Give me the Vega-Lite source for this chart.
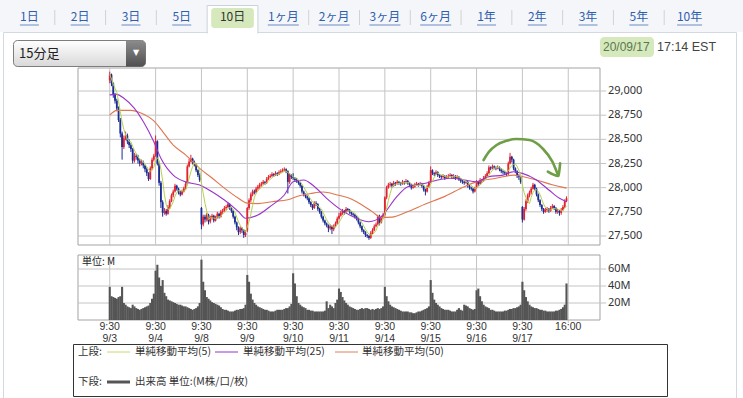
{
"$schema": "https://vega.github.io/schema/vega-lite/v6.json",
"width": 743, "height": 398, "padding": 0, "autosize": {"type": "none"},
"background": "white",
"config": {"view": {"stroke": null}, "font": "Noto Sans CJK JP"},
"data": {"values": [{}]},
"datasets": {
"tabs": [{"t":"1日"},{"t":"2日"},{"t":"3日"},{"t":"5日"},{"t":"10日"},{"t":"1ヶ月"},{"t":"2ヶ月"},{"t":"3ヶ月"},{"t":"6ヶ月"},{"t":"1年"},{"t":"2年"},{"t":"3年"},{"t":"5年"},{"t":"10年"}],
"vg": [{"i":0,"a":"9:30\n9/3"},{"i":26,"a":"9:30\n9/4"},{"i":52,"a":"9:30\n9/8"},{"i":78,"a":"9:30\n9/9"},{"i":104,"a":"9:30\n9/10"},{"i":130,"a":"9:30\n9/11"},{"i":156,"a":"9:30\n9/14"},{"i":182,"a":"9:30\n9/15"},{"i":208,"a":"9:30\n9/16"},{"i":234,"a":"9:30\n9/17"},{"i":260,"a":"16:00"}],
"pg": [{"p":27500},{"p":27750},{"p":28000},{"p":28250},{"p":28500},{"p":28750},{"p":29000}],
"qg": [{"v":20,"t":"20M"},{"v":40,"t":"40M"},{"v":60,"t":"60M"}],
"arrow": [
{"g":"arc","n":0,"i":212,"p":28286},{"g":"arc","n":1,"i":215,"p":28370},{"g":"arc","n":2,"i":219.4,"p":28441},{"g":"arc","n":3,"i":225,"p":28485},{"g":"arc","n":4,"i":230.5,"p":28503},{"g":"arc","n":5,"i":238,"p":28493},{"g":"arc","n":6,"i":245.4,"p":28407},{"g":"arc","n":7,"i":251,"p":28269},{"g":"arc","n":8,"i":254.3,"p":28125},
{"g":"head","n":0,"i":248.4,"p":28165},{"g":"head","n":1,"i":254.3,"p":28121},{"g":"head","n":2,"i":255.4,"p":28252}
],
"ma": [
{"s":"50","i":0,"p":28750},{"s":"50","i":4,"p":28800},{"s":"50","i":12,"p":28800},{"s":"50","i":18,"p":28770},{"s":"50","i":25,"p":28690},{"s":"50","i":30,"p":28580},{"s":"50","i":36,"p":28440},{"s":"50","i":43,"p":28340},{"s":"50","i":51,"p":28200},{"s":"50","i":58,"p":28100},{"s":"50","i":65,"p":27995},{"s":"50","i":73,"p":27890},{"s":"50","i":78,"p":27840},{"s":"50","i":84,"p":27835},{"s":"50","i":92,"p":27855},{"s":"50","i":101,"p":27875},{"s":"50","i":108,"p":27920},{"s":"50","i":114,"p":27940},{"s":"50","i":121,"p":27955},{"s":"50","i":129,"p":27925},{"s":"50","i":136,"p":27890},{"s":"50","i":140,"p":27855},{"s":"50","i":149,"p":27750},{"s":"50","i":154,"p":27690},{"s":"50","i":160,"p":27695},{"s":"50","i":168,"p":27745},{"s":"50","i":179,"p":27830},{"s":"50","i":190,"p":27910},{"s":"50","i":201,"p":28010},{"s":"50","i":208,"p":28060},{"s":"50","i":219,"p":28097},{"s":"50","i":229,"p":28130},{"s":"50","i":234,"p":28115},{"s":"50","i":242,"p":28080},{"s":"50","i":251,"p":28030},{"s":"50","i":259,"p":27995},
{"s":"25","i":0,"p":28960},{"s":"25","i":4,"p":28965},{"s":"25","i":8,"p":28925},{"s":"25","i":14,"p":28820},{"s":"25","i":19,"p":28685},{"s":"25","i":25,"p":28475},{"s":"25","i":29,"p":28305},{"s":"25","i":36,"p":28130},{"s":"25","i":43,"p":28060},{"s":"25","i":51,"p":28028},{"s":"25","i":58,"p":27958},{"s":"25","i":65,"p":27872},{"s":"25","i":73,"p":27752},{"s":"25","i":77,"p":27683},{"s":"25","i":84,"p":27717},{"s":"25","i":92,"p":27820},{"s":"25","i":99,"p":27924},{"s":"25","i":104,"p":28062},{"s":"25","i":110,"p":28080},{"s":"25","i":115,"p":28028},{"s":"25","i":123,"p":27890},{"s":"25","i":130,"p":27786},{"s":"25","i":140,"p":27683},{"s":"25","i":147,"p":27648},{"s":"25","i":154,"p":27700},{"s":"25","i":162,"p":27890},{"s":"25","i":169,"p":28010},{"s":"25","i":179,"p":28045},{"s":"25","i":186,"p":28080},{"s":"25","i":193,"p":28097},{"s":"25","i":201,"p":28080},{"s":"25","i":208,"p":28062},{"s":"25","i":215,"p":28114},{"s":"25","i":223,"p":28130},{"s":"25","i":229,"p":28165},{"s":"25","i":234,"p":28148},{"s":"25","i":242,"p":28080},{"s":"25","i":249,"p":27976},{"s":"25","i":255,"p":27890},{"s":"25","i":259,"p":27855}
],
"k": [
{"i":0,"o":29110,"h":29200,"l":29080,"c":29170,"v":39},
{"i":1,"o":29170,"h":29180,"l":29050,"c":29080,"v":28},
{"i":2,"o":29080,"h":29090,"l":28930,"c":28960,"v":27},
{"i":3,"o":28960,"h":28980,"l":28870,"c":28900,"v":26},
{"i":4,"o":28900,"h":28920,"l":28790,"c":28820,"v":25},
{"i":5,"o":28820,"h":28840,"l":28680,"c":28700,"v":27},
{"i":6,"o":28700,"h":28720,"l":28520,"c":28560,"v":28},
{"i":7,"o":28560,"h":28580,"l":28290,"c":28420,"v":39},
{"i":8,"o":28420,"h":28540,"l":28400,"c":28510,"v":20},
{"i":9,"o":28510,"h":28580,"l":28490,"c":28540,"v":18},
{"i":10,"o":28540,"h":28560,"l":28450,"c":28480,"v":16},
{"i":11,"o":28480,"h":28500,"l":28410,"c":28440,"v":15},
{"i":12,"o":28440,"h":28460,"l":28370,"c":28400,"v":14},
{"i":13,"o":28400,"h":28410,"l":28250,"c":28280,"v":18},
{"i":14,"o":28280,"h":28360,"l":28260,"c":28330,"v":16},
{"i":15,"o":28330,"h":28350,"l":28290,"c":28320,"v":14},
{"i":16,"o":28320,"h":28340,"l":28250,"c":28280,"v":13},
{"i":17,"o":28280,"h":28300,"l":28220,"c":28250,"v":12},
{"i":18,"o":28250,"h":28290,"l":28230,"c":28260,"v":13},
{"i":19,"o":28260,"h":28280,"l":28200,"c":28230,"v":14},
{"i":20,"o":28230,"h":28240,"l":28160,"c":28190,"v":15},
{"i":21,"o":28190,"h":28210,"l":28120,"c":28150,"v":16},
{"i":22,"o":28150,"h":28160,"l":28070,"c":28090,"v":17},
{"i":23,"o":28090,"h":28220,"l":28080,"c":28200,"v":20},
{"i":24,"o":28200,"h":28310,"l":28180,"c":28290,"v":25},
{"i":25,"o":28290,"h":28350,"l":28270,"c":28330,"v":31},
{"i":26,"o":28330,"h":28540,"l":28320,"c":28480,"v":58},
{"i":27,"o":28480,"h":28490,"l":28230,"c":28250,"v":65},
{"i":28,"o":28250,"h":28270,"l":28020,"c":28050,"v":50},
{"i":29,"o":28050,"h":28070,"l":27790,"c":27850,"v":40},
{"i":30,"o":27850,"h":27870,"l":27700,"c":27740,"v":47},
{"i":31,"o":27740,"h":27790,"l":27720,"c":27760,"v":32},
{"i":32,"o":27760,"h":27780,"l":27710,"c":27730,"v":28},
{"i":33,"o":27730,"h":27820,"l":27720,"c":27800,"v":24},
{"i":34,"o":27800,"h":27880,"l":27780,"c":27860,"v":23},
{"i":35,"o":27860,"h":27940,"l":27850,"c":27920,"v":22},
{"i":36,"o":27920,"h":27980,"l":27900,"c":27960,"v":21},
{"i":37,"o":27960,"h":28040,"l":27950,"c":28020,"v":20},
{"i":38,"o":28020,"h":28030,"l":27970,"c":27990,"v":19},
{"i":39,"o":27990,"h":28000,"l":27930,"c":27950,"v":18},
{"i":40,"o":27950,"h":27970,"l":27910,"c":27930,"v":18},
{"i":41,"o":27930,"h":27980,"l":27920,"c":27960,"v":17},
{"i":42,"o":27960,"h":28010,"l":27950,"c":27990,"v":16},
{"i":43,"o":27990,"h":28060,"l":27980,"c":28040,"v":16},
{"i":44,"o":28040,"h":28240,"l":28030,"c":28220,"v":15},
{"i":45,"o":28220,"h":28300,"l":28210,"c":28270,"v":14},
{"i":46,"o":28270,"h":28340,"l":28260,"c":28300,"v":13},
{"i":47,"o":28300,"h":28310,"l":28240,"c":28260,"v":12},
{"i":48,"o":28260,"h":28280,"l":28220,"c":28240,"v":13},
{"i":49,"o":28240,"h":28250,"l":28160,"c":28180,"v":14},
{"i":50,"o":28180,"h":28190,"l":28110,"c":28130,"v":16},
{"i":51,"o":28130,"h":28150,"l":28060,"c":28080,"v":20},
{"i":52,"o":27790,"h":27800,"l":27570,"c":27620,"v":71},
{"i":53,"o":27620,"h":27720,"l":27600,"c":27700,"v":45},
{"i":54,"o":27700,"h":27720,"l":27640,"c":27670,"v":35},
{"i":55,"o":27670,"h":27740,"l":27650,"c":27720,"v":27},
{"i":56,"o":27720,"h":27730,"l":27620,"c":27650,"v":25},
{"i":57,"o":27650,"h":27710,"l":27630,"c":27690,"v":23},
{"i":58,"o":27690,"h":27730,"l":27670,"c":27710,"v":21},
{"i":59,"o":27710,"h":27720,"l":27640,"c":27660,"v":20},
{"i":60,"o":27660,"h":27710,"l":27650,"c":27690,"v":19},
{"i":61,"o":27690,"h":27750,"l":27680,"c":27730,"v":18},
{"i":62,"o":27730,"h":27740,"l":27680,"c":27700,"v":17},
{"i":63,"o":27700,"h":27770,"l":27690,"c":27750,"v":15},
{"i":64,"o":27750,"h":27780,"l":27730,"c":27760,"v":13},
{"i":65,"o":27760,"h":27810,"l":27750,"c":27790,"v":12},
{"i":66,"o":27790,"h":27820,"l":27770,"c":27800,"v":12},
{"i":67,"o":27800,"h":27850,"l":27790,"c":27830,"v":11},
{"i":68,"o":27830,"h":27840,"l":27770,"c":27790,"v":10},
{"i":69,"o":27790,"h":27800,"l":27740,"c":27760,"v":10},
{"i":70,"o":27760,"h":27770,"l":27680,"c":27700,"v":10},
{"i":71,"o":27700,"h":27710,"l":27620,"c":27640,"v":11},
{"i":72,"o":27640,"h":27650,"l":27560,"c":27590,"v":12},
{"i":73,"o":27590,"h":27600,"l":27510,"c":27540,"v":12},
{"i":74,"o":27540,"h":27600,"l":27520,"c":27580,"v":13},
{"i":75,"o":27580,"h":27590,"l":27530,"c":27560,"v":13},
{"i":76,"o":27560,"h":27570,"l":27480,"c":27510,"v":14},
{"i":77,"o":27510,"h":27560,"l":27490,"c":27530,"v":18},
{"i":78,"o":27560,"h":27800,"l":27540,"c":27790,"v":53},
{"i":79,"o":27790,"h":27890,"l":27770,"c":27870,"v":45},
{"i":80,"o":27870,"h":27950,"l":27850,"c":27930,"v":31},
{"i":81,"o":27930,"h":27980,"l":27910,"c":27960,"v":24},
{"i":82,"o":27960,"h":27980,"l":27930,"c":27950,"v":20},
{"i":83,"o":27950,"h":28010,"l":27940,"c":27990,"v":18},
{"i":84,"o":27990,"h":28030,"l":27970,"c":28010,"v":16},
{"i":85,"o":28010,"h":28050,"l":27990,"c":28030,"v":15},
{"i":86,"o":28030,"h":28060,"l":28010,"c":28040,"v":14},
{"i":87,"o":28040,"h":28080,"l":28030,"c":28060,"v":13},
{"i":88,"o":28060,"h":28070,"l":28030,"c":28050,"v":12},
{"i":89,"o":28050,"h":28110,"l":28040,"c":28090,"v":12},
{"i":90,"o":28090,"h":28130,"l":28080,"c":28110,"v":11},
{"i":91,"o":28110,"h":28140,"l":28100,"c":28120,"v":10},
{"i":92,"o":28120,"h":28160,"l":28110,"c":28140,"v":10},
{"i":93,"o":28140,"h":28150,"l":28110,"c":28130,"v":10},
{"i":94,"o":28130,"h":28170,"l":28120,"c":28150,"v":11},
{"i":95,"o":28150,"h":28160,"l":28120,"c":28140,"v":12},
{"i":96,"o":28140,"h":28180,"l":28130,"c":28160,"v":12},
{"i":97,"o":28160,"h":28190,"l":28150,"c":28170,"v":12},
{"i":98,"o":28170,"h":28200,"l":28160,"c":28180,"v":12},
{"i":99,"o":28180,"h":28210,"l":28170,"c":28190,"v":13},
{"i":100,"o":28190,"h":28200,"l":28150,"c":28170,"v":14},
{"i":101,"o":28170,"h":28180,"l":27940,"c":28060,"v":14},
{"i":102,"o":28060,"h":28150,"l":28040,"c":28130,"v":16},
{"i":103,"o":28130,"h":28140,"l":28090,"c":28110,"v":19},
{"i":104,"o":28110,"h":28150,"l":28080,"c":28100,"v":55},
{"i":105,"o":28100,"h":28110,"l":28060,"c":28080,"v":43},
{"i":106,"o":28080,"h":28100,"l":28050,"c":28070,"v":28},
{"i":107,"o":28070,"h":28080,"l":28030,"c":28050,"v":20},
{"i":108,"o":28050,"h":28060,"l":28000,"c":28020,"v":18},
{"i":109,"o":28020,"h":28030,"l":27940,"c":27960,"v":16},
{"i":110,"o":27960,"h":27970,"l":27910,"c":27930,"v":15},
{"i":111,"o":27930,"h":27940,"l":27890,"c":27910,"v":14},
{"i":112,"o":27910,"h":27920,"l":27870,"c":27890,"v":12},
{"i":113,"o":27890,"h":27900,"l":27830,"c":27850,"v":12},
{"i":114,"o":27850,"h":27860,"l":27800,"c":27820,"v":11},
{"i":115,"o":27820,"h":27830,"l":27770,"c":27790,"v":11},
{"i":116,"o":27790,"h":27860,"l":27780,"c":27840,"v":10},
{"i":117,"o":27840,"h":27860,"l":27810,"c":27830,"v":10},
{"i":118,"o":27830,"h":27840,"l":27760,"c":27780,"v":10},
{"i":119,"o":27780,"h":27790,"l":27730,"c":27750,"v":10},
{"i":120,"o":27750,"h":27760,"l":27680,"c":27700,"v":10},
{"i":121,"o":27700,"h":27710,"l":27640,"c":27660,"v":10},
{"i":122,"o":27660,"h":27670,"l":27610,"c":27630,"v":11},
{"i":123,"o":27630,"h":27640,"l":27590,"c":27610,"v":22},
{"i":124,"o":27610,"h":27620,"l":27540,"c":27580,"v":14},
{"i":125,"o":27580,"h":27620,"l":27560,"c":27600,"v":18},
{"i":126,"o":27600,"h":27610,"l":27520,"c":27570,"v":16},
{"i":127,"o":27570,"h":27620,"l":27550,"c":27600,"v":14},
{"i":128,"o":27600,"h":27650,"l":27590,"c":27630,"v":20},
{"i":129,"o":27630,"h":27700,"l":27620,"c":27680,"v":24},
{"i":130,"o":27680,"h":27740,"l":27670,"c":27710,"v":37},
{"i":131,"o":27710,"h":27760,"l":27700,"c":27740,"v":33},
{"i":132,"o":27740,"h":27780,"l":27720,"c":27760,"v":27},
{"i":133,"o":27760,"h":27770,"l":27720,"c":27740,"v":23},
{"i":134,"o":27740,"h":27800,"l":27730,"c":27780,"v":20},
{"i":135,"o":27780,"h":27790,"l":27750,"c":27770,"v":18},
{"i":136,"o":27770,"h":27780,"l":27730,"c":27750,"v":16},
{"i":137,"o":27750,"h":27760,"l":27710,"c":27730,"v":15},
{"i":138,"o":27730,"h":27740,"l":27700,"c":27720,"v":14},
{"i":139,"o":27720,"h":27730,"l":27680,"c":27700,"v":13},
{"i":140,"o":27700,"h":27710,"l":27660,"c":27680,"v":12},
{"i":141,"o":27680,"h":27690,"l":27620,"c":27640,"v":12},
{"i":142,"o":27640,"h":27650,"l":27580,"c":27600,"v":13},
{"i":143,"o":27600,"h":27610,"l":27540,"c":27560,"v":14},
{"i":144,"o":27560,"h":27570,"l":27520,"c":27540,"v":13},
{"i":145,"o":27540,"h":27550,"l":27490,"c":27510,"v":14},
{"i":146,"o":27510,"h":27520,"l":27480,"c":27500,"v":14},
{"i":147,"o":27500,"h":27510,"l":27460,"c":27480,"v":13},
{"i":148,"o":27480,"h":27550,"l":27470,"c":27530,"v":12},
{"i":149,"o":27530,"h":27580,"l":27520,"c":27560,"v":13},
{"i":150,"o":27560,"h":27620,"l":27550,"c":27600,"v":12},
{"i":151,"o":27600,"h":27640,"l":27590,"c":27620,"v":13},
{"i":152,"o":27620,"h":27720,"l":27610,"c":27700,"v":14},
{"i":153,"o":27700,"h":27720,"l":27610,"c":27640,"v":13},
{"i":154,"o":27640,"h":27710,"l":27630,"c":27690,"v":14},
{"i":155,"o":27690,"h":27740,"l":27680,"c":27720,"v":16},
{"i":156,"o":27720,"h":27910,"l":27700,"c":27900,"v":39},
{"i":157,"o":27900,"h":28020,"l":27880,"c":28000,"v":28},
{"i":158,"o":28000,"h":28050,"l":27990,"c":28030,"v":22},
{"i":159,"o":28030,"h":28060,"l":28010,"c":28040,"v":18},
{"i":160,"o":28040,"h":28050,"l":28000,"c":28020,"v":16},
{"i":161,"o":28020,"h":28070,"l":28010,"c":28050,"v":15},
{"i":162,"o":28050,"h":28060,"l":28020,"c":28040,"v":14},
{"i":163,"o":28040,"h":28080,"l":28030,"c":28060,"v":13},
{"i":164,"o":28060,"h":28070,"l":28030,"c":28050,"v":12},
{"i":165,"o":28050,"h":28060,"l":28020,"c":28040,"v":11},
{"i":166,"o":28040,"h":28080,"l":28030,"c":28060,"v":10},
{"i":167,"o":28060,"h":28070,"l":28030,"c":28050,"v":10},
{"i":168,"o":28050,"h":28090,"l":28040,"c":28070,"v":10},
{"i":169,"o":28070,"h":28080,"l":28030,"c":28050,"v":10},
{"i":170,"o":28050,"h":28060,"l":28010,"c":28030,"v":9},
{"i":171,"o":28030,"h":28040,"l":27980,"c":28000,"v":9},
{"i":172,"o":28000,"h":28030,"l":27990,"c":28010,"v":8},
{"i":173,"o":28010,"h":28050,"l":28000,"c":28030,"v":8},
{"i":174,"o":28030,"h":28060,"l":28020,"c":28040,"v":9},
{"i":175,"o":28040,"h":28050,"l":28010,"c":28030,"v":10},
{"i":176,"o":28030,"h":28060,"l":28020,"c":28040,"v":10},
{"i":177,"o":28040,"h":28050,"l":28000,"c":28020,"v":11},
{"i":178,"o":28020,"h":28030,"l":27960,"c":27980,"v":12},
{"i":179,"o":27980,"h":27990,"l":27920,"c":27960,"v":13},
{"i":180,"o":27960,"h":28030,"l":27950,"c":28010,"v":14},
{"i":181,"o":28010,"h":28070,"l":28000,"c":28050,"v":16},
{"i":182,"o":28060,"h":28220,"l":28050,"c":28180,"v":47},
{"i":183,"o":28180,"h":28190,"l":28130,"c":28150,"v":32},
{"i":184,"o":28150,"h":28160,"l":28120,"c":28140,"v":24},
{"i":185,"o":28140,"h":28180,"l":28130,"c":28160,"v":20},
{"i":186,"o":28160,"h":28170,"l":28110,"c":28130,"v":18},
{"i":187,"o":28130,"h":28140,"l":28100,"c":28120,"v":16},
{"i":188,"o":28120,"h":28130,"l":28090,"c":28110,"v":14},
{"i":189,"o":28110,"h":28140,"l":28100,"c":28120,"v":13},
{"i":190,"o":28120,"h":28130,"l":28080,"c":28100,"v":12},
{"i":191,"o":28100,"h":28130,"l":28090,"c":28110,"v":12},
{"i":192,"o":28110,"h":28140,"l":28100,"c":28120,"v":12},
{"i":193,"o":28120,"h":28150,"l":28110,"c":28130,"v":11},
{"i":194,"o":28130,"h":28140,"l":28090,"c":28110,"v":10},
{"i":195,"o":28110,"h":28140,"l":28100,"c":28120,"v":10},
{"i":196,"o":28120,"h":28130,"l":28080,"c":28100,"v":10},
{"i":197,"o":28100,"h":28130,"l":28090,"c":28110,"v":12},
{"i":198,"o":28110,"h":28120,"l":28070,"c":28090,"v":14},
{"i":199,"o":28090,"h":28100,"l":28050,"c":28070,"v":12},
{"i":200,"o":28070,"h":28080,"l":28040,"c":28060,"v":11},
{"i":201,"o":28060,"h":28070,"l":28030,"c":28050,"v":18},
{"i":202,"o":28050,"h":28080,"l":28040,"c":28060,"v":17},
{"i":203,"o":28060,"h":28070,"l":28000,"c":28020,"v":16},
{"i":204,"o":28020,"h":28030,"l":27980,"c":28000,"v":14},
{"i":205,"o":28000,"h":28010,"l":27970,"c":27990,"v":13},
{"i":206,"o":27990,"h":28000,"l":27940,"c":27960,"v":12},
{"i":207,"o":27960,"h":28010,"l":27950,"c":27990,"v":13},
{"i":208,"o":28000,"h":28080,"l":27990,"c":28060,"v":35},
{"i":209,"o":28060,"h":28070,"l":28020,"c":28040,"v":37},
{"i":210,"o":28040,"h":28100,"l":28030,"c":28080,"v":28},
{"i":211,"o":28080,"h":28090,"l":28050,"c":28070,"v":22},
{"i":212,"o":28070,"h":28120,"l":28060,"c":28100,"v":18},
{"i":213,"o":28100,"h":28140,"l":28090,"c":28120,"v":16},
{"i":214,"o":28120,"h":28170,"l":28110,"c":28150,"v":15},
{"i":215,"o":28150,"h":28230,"l":28140,"c":28210,"v":14},
{"i":216,"o":28210,"h":28220,"l":28180,"c":28200,"v":12},
{"i":217,"o":28200,"h":28240,"l":28190,"c":28220,"v":12},
{"i":218,"o":28220,"h":28230,"l":28190,"c":28210,"v":11},
{"i":219,"o":28210,"h":28220,"l":28180,"c":28200,"v":10},
{"i":220,"o":28200,"h":28230,"l":28190,"c":28210,"v":10},
{"i":221,"o":28210,"h":28220,"l":28170,"c":28190,"v":10},
{"i":222,"o":28190,"h":28200,"l":28150,"c":28170,"v":10},
{"i":223,"o":28170,"h":28180,"l":28140,"c":28160,"v":10},
{"i":224,"o":28160,"h":28170,"l":28130,"c":28150,"v":11},
{"i":225,"o":28150,"h":28160,"l":28120,"c":28140,"v":11},
{"i":226,"o":28140,"h":28270,"l":28130,"c":28250,"v":12},
{"i":227,"o":28250,"h":28360,"l":28240,"c":28320,"v":13},
{"i":228,"o":28320,"h":28330,"l":28260,"c":28290,"v":13},
{"i":229,"o":28290,"h":28300,"l":28180,"c":28200,"v":14},
{"i":230,"o":28200,"h":28210,"l":28150,"c":28170,"v":14},
{"i":231,"o":28170,"h":28180,"l":28100,"c":28120,"v":15},
{"i":232,"o":28120,"h":28140,"l":28080,"c":28110,"v":16},
{"i":233,"o":28110,"h":28120,"l":28040,"c":28060,"v":18},
{"i":234,"o":27800,"h":27810,"l":27640,"c":27670,"v":45},
{"i":235,"o":27670,"h":27800,"l":27660,"c":27780,"v":35},
{"i":236,"o":27780,"h":27880,"l":27760,"c":27860,"v":27},
{"i":237,"o":27860,"h":27940,"l":27840,"c":27920,"v":22},
{"i":238,"o":27920,"h":27970,"l":27900,"c":27950,"v":18},
{"i":239,"o":27950,"h":28010,"l":27930,"c":27990,"v":16},
{"i":240,"o":27990,"h":28050,"l":27980,"c":28030,"v":15},
{"i":241,"o":28030,"h":28040,"l":27970,"c":27990,"v":14},
{"i":242,"o":27990,"h":28000,"l":27910,"c":27930,"v":14},
{"i":243,"o":27930,"h":27940,"l":27850,"c":27870,"v":13},
{"i":244,"o":27870,"h":27880,"l":27800,"c":27820,"v":12},
{"i":245,"o":27820,"h":27830,"l":27760,"c":27780,"v":12},
{"i":246,"o":27780,"h":27790,"l":27730,"c":27750,"v":11},
{"i":247,"o":27750,"h":27790,"l":27740,"c":27770,"v":11},
{"i":248,"o":27770,"h":27800,"l":27750,"c":27780,"v":10},
{"i":249,"o":27780,"h":27790,"l":27740,"c":27760,"v":10},
{"i":250,"o":27760,"h":27810,"l":27750,"c":27790,"v":10},
{"i":251,"o":27790,"h":27830,"l":27780,"c":27810,"v":10},
{"i":252,"o":27810,"h":27820,"l":27770,"c":27790,"v":10},
{"i":253,"o":27790,"h":27800,"l":27730,"c":27750,"v":11},
{"i":254,"o":27750,"h":27780,"l":27730,"c":27760,"v":11},
{"i":255,"o":27760,"h":27770,"l":27710,"c":27740,"v":12},
{"i":256,"o":27740,"h":27790,"l":27720,"c":27770,"v":13},
{"i":257,"o":27770,"h":27820,"l":27760,"c":27800,"v":15},
{"i":258,"o":27800,"h":27880,"l":27790,"c":27860,"v":18},
{"i":259,"o":27860,"h":27910,"l":27850,"c":27890,"v":43}
]
},
"layer": [
{"mark": {"type": "rect", "fill": "#f5f6f9"}, "encoding": {"x": {"value": 0}, "x2": {"value": 743}, "y": {"value": 0}, "y2": {"value": 32}}},
{"mark": {"type": "rect", "fill": "white", "stroke": "#d3d9e3"}, "encoding": {"x": {"value": 3.5}, "x2": {"value": 736.5}, "y": {"value": 32.5}, "y2": {"value": 420}}},
{
"data": {"name": "tabs"},
"encoding": {"x": {"field": "t", "type": "nominal", "sort": null, "axis": null, "scale": {"type": "band", "domain": ["1日","2日","3日","5日","10日","1ヶ月","2ヶ月","3ヶ月","6ヶ月","1年","2年","3年","5年","10年"], "range": [4, 715], "paddingInner": 0, "paddingOuter": 0}}},
"layer": [
{"transform": [{"filter": "datum.t == '10日'"}], "mark": {"type": "rect", "fill": "white", "stroke": "#c9d1de"}, "encoding": {"y": {"value": 5.5}, "y2": {"value": 33}}},
{"transform": [{"filter": "datum.t == '10日'"}], "mark": {"type": "bar", "fill": "white", "width": {"band": 0.97}}, "encoding": {"y": {"value": 31}, "y2": {"value": 34}}},
{"transform": [{"filter": "datum.t == '10日'"}], "mark": {"type": "bar", "fill": "#d6e9bc", "cornerRadius": 3, "width": {"band": 0.84}}, "encoding": {"y": {"value": 8}, "y2": {"value": 28}}},
{"transform": [{"filter": "indexof(['2日','3日','5日','2ヶ月','3ヶ月','6ヶ月','1年','2年','3年','5年','10年'], datum.t) >= 0"}], "mark": {"type": "rule", "stroke": "#d2d2d2"}, "encoding": {"x": {"field": "t", "type": "nominal", "bandPosition": 0}, "y": {"value": 10}, "y2": {"value": 25}}},
{"mark": {"type": "text", "fontSize": 12, "baseline": "middle"}, "encoding": {"text": {"field": "t"}, "y": {"value": 17}, "color": {"condition": {"test": "datum.t == '10日'", "value": "#333333"}, "value": "#2d5fae"}}},
{"transform": [{"filter": "length(datum.t) == 2"}], "mark": {"type": "tick", "orient": "horizontal", "size": 19, "thickness": 1, "color": "#2d5fae"}, "encoding": {"y": {"value": 25}}},
{"transform": [{"filter": "indexof(datum.t, 'ヶ') >= 0"}], "mark": {"type": "tick", "orient": "horizontal", "size": 31, "thickness": 1, "color": "#2d5fae"}, "encoding": {"y": {"value": 25}}},
{"transform": [{"filter": "datum.t == '10年'"}], "mark": {"type": "tick", "orient": "horizontal", "size": 25, "thickness": 1, "color": "#2d5fae"}, "encoding": {"y": {"value": 25}}}
]
},
{"mark": {"type": "rect", "cornerRadius": 4, "stroke": "#7d7d7d", "fill": {"gradient": "linear", "x1": 0, "y1": 0, "x2": 0, "y2": 1, "stops": [{"offset": 0, "color": "#ffffff"}, {"offset": 1, "color": "#d8d8d8"}]}}, "encoding": {"x": {"value": 13.5}, "x2": {"value": 145.5}, "y": {"value": 40.5}, "y2": {"value": 66.5}}},
{"mark": {"type": "rect", "cornerRadiusTopRight": 4, "cornerRadiusBottomRight": 4, "fill": {"gradient": "linear", "x1": 0, "y1": 0, "x2": 0, "y2": 1, "stops": [{"offset": 0, "color": "#8c8c8c"}, {"offset": 1, "color": "#505050"}]}}, "encoding": {"x": {"value": 126}, "x2": {"value": 145.5}, "y": {"value": 40.5}, "y2": {"value": 66.5}}},
{"mark": {"type": "text", "text": "▼", "fontSize": 8, "color": "white", "align": "center", "baseline": "middle", "font": "DejaVu Sans"}, "encoding": {"x": {"value": 136}, "y": {"value": 53}}},
{"mark": {"type": "text", "text": "15分足", "fontSize": 13, "color": "#222222", "align": "left", "baseline": "middle"}, "encoding": {"x": {"value": 19}, "y": {"value": 53.5}}},
{"mark": {"type": "rect", "fill": "#d6e9bc", "cornerRadius": 4}, "encoding": {"x": {"value": 600}, "x2": {"value": 654}, "y": {"value": 37}, "y2": {"value": 57}}},
{"mark": {"type": "text", "text": "20/09/17", "fontSize": 12, "font": "Liberation Sans", "color": "#5b7750", "align": "left", "baseline": "middle"}, "encoding": {"x": {"value": 603}, "y": {"value": 47}}},
{"mark": {"type": "text", "text": "17:14 EST", "fontSize": 12.5, "font": "Liberation Sans", "color": "#444444", "align": "left", "baseline": "middle"}, "encoding": {"x": {"value": 657}, "y": {"value": 47}}},
{
"layer": [
{
"layer": [
{"mark": {"type": "rect", "fill": "white", "stroke": "#a3a3a3"}, "encoding": {"x": {"datum": -18, "type": "quantitative", "axis": null, "scale": {"domain": [-18, 278], "range": [73, 605]}}, "x2": {"datum": 278}, "y": {"datum": 27407, "type": "quantitative", "axis": null, "scale": {"domain": [27407, 29238], "range": [245, 68], "nice": false, "zero": false}}, "y2": {"datum": 29238}}},
{"data": {"name": "vg"}, "mark": {"type": "rule", "stroke": "#c4c4c4"}, "encoding": {"x": {"field": "i", "type": "quantitative", "axis": null, "scale": {"domain": [-18, 278], "range": [73, 605]}}, "y": {"datum": 27407, "type": "quantitative", "axis": null, "scale": {"domain": [27407, 29238], "range": [245, 68], "nice": false, "zero": false}}, "y2": {"datum": 29238}}},
{"data": {"name": "pg"}, "mark": {"type": "rule", "stroke": "#c4c4c4"}, "encoding": {"y": {"field": "p", "type": "quantitative", "axis": null, "scale": {"domain": [27407, 29238], "range": [245, 68], "nice": false, "zero": false}}, "x": {"datum": -18, "type": "quantitative", "axis": null, "scale": {"domain": [-18, 278], "range": [73, 605]}}, "x2": {"datum": 281.5}}},
{"data": {"name": "pg"}, "mark": {"type": "text", "align": "left", "baseline": "middle", "dx": 8, "fontSize": 11, "font": "Noto Sans", "color": "#333333"}, "encoding": {"y": {"field": "p", "type": "quantitative", "axis": null, "scale": {"domain": [27407, 29238], "range": [245, 68], "nice": false, "zero": false}}, "x": {"datum": 278, "type": "quantitative", "axis": null, "scale": {"domain": [-18, 278], "range": [73, 605]}}, "text": {"field": "p", "type": "quantitative", "format": ","}}},
{"data": {"name": "k"}, "mark": {"type": "rule", "strokeWidth": 1}, "encoding": {"x": {"field": "i", "type": "quantitative", "axis": null, "scale": {"domain": [-18, 278], "range": [73, 605]}}, "y": {"field": "l", "type": "quantitative", "axis": null, "scale": {"domain": [27407, 29238], "range": [245, 68], "nice": false, "zero": false}}, "y2": {"field": "h"}, "color": {"condition": {"test": "datum.c >= datum.o", "value": "#e3222f"}, "value": "#1c2c95"}}},
{"data": {"name": "k"}, "mark": {"type": "bar", "width": 1.8}, "encoding": {"x": {"field": "i", "type": "quantitative", "axis": null, "scale": {"domain": [-18, 278], "range": [73, 605]}}, "y": {"field": "o", "type": "quantitative", "axis": null, "scale": {"domain": [27407, 29238], "range": [245, 68], "nice": false, "zero": false}}, "y2": {"field": "c"}, "color": {"condition": {"test": "datum.c >= datum.o", "value": "#e3222f"}, "value": "#1c2c95"}}},
{"data": {"name": "ma"}, "mark": {"type": "line", "interpolate": "monotone", "strokeWidth": 1.1}, "encoding": {"x": {"field": "i", "type": "quantitative", "axis": null, "scale": {"domain": [-18, 278], "range": [73, 605]}}, "y": {"field": "p", "type": "quantitative", "axis": null, "scale": {"domain": [27407, 29238], "range": [245, 68], "nice": false, "zero": false}}, "color": {"field": "s", "type": "nominal", "legend": null, "scale": {"domain": ["50", "25"], "range": ["#e0764e", "#9a33cc"]}}}},
{"data": {"name": "k"}, "transform": [{"window": [{"op": "mean", "field": "c", "as": "m5"}], "frame": [-4, 0], "sort": [{"field": "i"}]}], "mark": {"type": "line", "strokeWidth": 1, "color": "#b3d24a"}, "encoding": {"x": {"field": "i", "type": "quantitative", "axis": null, "scale": {"domain": [-18, 278], "range": [73, 605]}}, "y": {"field": "m5", "type": "quantitative", "axis": null, "scale": {"domain": [27407, 29238], "range": [245, 68], "nice": false, "zero": false}}}},
{"data": {"name": "arrow"}, "mark": {"type": "line", "interpolate": "monotone", "strokeWidth": 2.6, "strokeCap": "round", "strokeJoin": "round", "color": "#6e9e46"}, "encoding": {"x": {"field": "i", "type": "quantitative", "axis": null, "scale": {"domain": [-18, 278], "range": [73, 605]}}, "y": {"field": "p", "type": "quantitative", "axis": null, "scale": {"domain": [27407, 29238], "range": [245, 68], "nice": false, "zero": false}}, "detail": {"field": "g"}, "order": {"field": "n"}}}
]
},
{
"layer": [
{"mark": {"type": "rect", "fill": "white", "stroke": "#a3a3a3"}, "encoding": {"x": {"datum": -18, "type": "quantitative", "axis": null, "scale": {"domain": [-18, 278], "range": [73, 605]}}, "x2": {"datum": 278}, "y": {"datum": 0, "type": "quantitative", "axis": null, "scale": {"domain": [0, 76.5], "range": [320, 255], "nice": false}}, "y2": {"datum": 76.5}}},
{"data": {"name": "vg"}, "mark": {"type": "rule", "stroke": "#c4c4c4"}, "encoding": {"x": {"field": "i", "type": "quantitative", "axis": null, "scale": {"domain": [-18, 278], "range": [73, 605]}}, "y": {"datum": -3.5, "type": "quantitative", "axis": null, "scale": {"domain": [0, 76.5], "range": [320, 255], "nice": false}}, "y2": {"datum": 76.5}}},
{"data": {"name": "qg"}, "mark": {"type": "rule", "stroke": "#c4c4c4"}, "encoding": {"y": {"field": "v", "type": "quantitative", "axis": null, "scale": {"domain": [0, 76.5], "range": [320, 255], "nice": false}}, "x": {"datum": -18, "type": "quantitative", "axis": null, "scale": {"domain": [-18, 278], "range": [73, 605]}}, "x2": {"datum": 281.5}}},
{"data": {"name": "qg"}, "mark": {"type": "text", "align": "left", "baseline": "middle", "dx": 8, "fontSize": 11, "font": "Noto Sans", "color": "#333333"}, "encoding": {"y": {"field": "v", "type": "quantitative", "axis": null, "scale": {"domain": [0, 76.5], "range": [320, 255], "nice": false}}, "x": {"datum": 278, "type": "quantitative", "axis": null, "scale": {"domain": [-18, 278], "range": [73, 605]}}, "text": {"field": "t"}}},
{"data": {"name": "k"}, "mark": {"type": "bar", "width": 2.1, "color": "#555555"}, "encoding": {"x": {"field": "i", "type": "quantitative", "axis": null, "scale": {"domain": [-18, 278], "range": [73, 605]}}, "y": {"field": "v", "type": "quantitative", "axis": null, "scale": {"domain": [0, 76.5], "range": [320, 255], "nice": false}}}},
{"mark": {"type": "text", "text": "単位: M", "align": "left", "baseline": "middle", "dx": 4, "dy": 7, "fontSize": 10, "color": "#222222"}, "encoding": {"x": {"datum": -18, "type": "quantitative", "axis": null, "scale": {"domain": [-18, 278], "range": [73, 605]}}, "y": {"datum": 76.5, "type": "quantitative", "axis": null, "scale": {"domain": [0, 76.5], "range": [320, 255], "nice": false}}}},
{"data": {"name": "vg"}, "mark": {"type": "text", "align": "center", "baseline": "top", "lineBreak": "\n", "lineHeight": 12, "dy": 1.5, "fontSize": 10.5, "font": "Liberation Sans", "color": "#333333"}, "encoding": {"x": {"field": "i", "type": "quantitative", "axis": null, "scale": {"domain": [-18, 278], "range": [73, 605]}}, "y": {"datum": 0, "type": "quantitative", "axis": null, "scale": {"domain": [0, 76.5], "range": [320, 255], "nice": false}}, "text": {"field": "a"}}}
]
}
],
"resolve": {"scale": {"y": "independent"}}
},
{"mark": {"type": "rect", "fill": null, "stroke": "#333333"}, "encoding": {"x": {"value": 73.5}, "x2": {"value": 667.5}, "y": {"value": 344.5}, "y2": {"value": 396.5}}},
{"mark": {"type": "text", "text": "上段:", "align": "left", "baseline": "middle", "fontSize": 10.5, "color": "#333333"}, "encoding": {"x": {"value": 78}, "y": {"value": 352}}},
{"mark": {"type": "rule", "stroke": "#c5da6e", "strokeWidth": 1}, "encoding": {"x": {"value": 107}, "x2": {"value": 130}, "y": {"value": 352}}},
{"mark": {"type": "text", "text": "単純移動平均(5)", "align": "left", "baseline": "middle", "fontSize": 10.5, "color": "#333333"}, "encoding": {"x": {"value": 135}, "y": {"value": 352}}},
{"mark": {"type": "rule", "stroke": "#9a33cc", "strokeWidth": 1}, "encoding": {"x": {"value": 215}, "x2": {"value": 238}, "y": {"value": 352}}},
{"mark": {"type": "text", "text": "単純移動平均(25)", "align": "left", "baseline": "middle", "fontSize": 10.5, "color": "#333333"}, "encoding": {"x": {"value": 243}, "y": {"value": 352}}},
{"mark": {"type": "rule", "stroke": "#e0805e", "strokeWidth": 1}, "encoding": {"x": {"value": 335}, "x2": {"value": 358}, "y": {"value": 352}}},
{"mark": {"type": "text", "text": "単純移動平均(50)", "align": "left", "baseline": "middle", "fontSize": 10.5, "color": "#333333"}, "encoding": {"x": {"value": 362}, "y": {"value": 352}}},
{"mark": {"type": "text", "text": "下段:", "align": "left", "baseline": "middle", "fontSize": 10.5, "color": "#333333"}, "encoding": {"x": {"value": 78}, "y": {"value": 382}}},
{"mark": {"type": "rule", "stroke": "#555555", "strokeWidth": 3}, "encoding": {"x": {"value": 107}, "x2": {"value": 130}, "y": {"value": 382}}},
{"mark": {"type": "text", "text": "出来高 単位:(M株/口/枚)", "align": "left", "baseline": "middle", "fontSize": 10.5, "color": "#333333"}, "encoding": {"x": {"value": 135}, "y": {"value": 382}}}
],
"resolve": {"scale": {"x": "independent", "y": "independent"}}
}
